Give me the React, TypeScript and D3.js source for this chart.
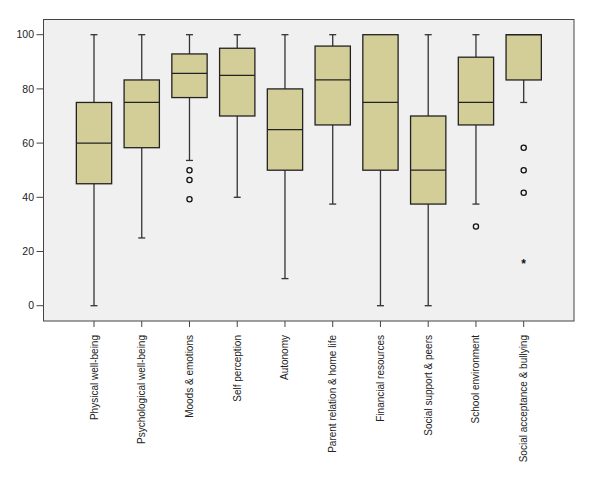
import React from "react";
import * as d3 from "d3";

const categories = [
  "Physical well-being",
  "Psychological well-being",
  "Moods & emotions",
  "Self perception",
  "Autonomy",
  "Parent relation & home life",
  "Financial resources",
  "Social support & peers",
  "School environment",
  "Social acceptance & bullying",
];
const whiskerLow = [0, 25, 53.6, 40, 10, 37.5, 0, 0, 37.5, 75];
const q1 = [45, 58.3, 76.8, 70, 50, 66.7, 50, 37.5, 66.7, 83.3];
const median = [60, 75, 85.7, 85, 65, 83.3, 75, 50, 75, 100];
const q3 = [75, 83.3, 92.9, 95, 80, 95.8, 100, 70, 91.7, 100];
const whiskerHigh = [100, 100, 100, 100, 100, 100, 100, 100, 100, 100];
const outliers: number[][] = [[], [], [50, 46.4, 39.3], [], [], [], [], [], [29.2], [58.3, 50, 41.7]];
const extremes: number[][] = [[], [], [], [], [], [], [], [], [], [16.7]];
const yTicks = [0, 20, 40, 60, 80, 100];

export default function App() {
  const W = 600, H = 480;
  const frame = { x0: 43.5, x1: 574, y0: 19.5, y1: 321 };
  const y = d3.scaleLinear().domain([0, 100]).range([305.7, 34.7]);
  const x = d3.scalePoint<string>().domain(categories).range([94, 523.7]);
  const boxW = 35.3;
  const capW = 7;
  const font = "Arial, 'Liberation Sans', sans-serif";
  const fill = "#D3CE98";
  const stroke = "#222";

  return (
    <svg width={W} height={H} style={{ display: "block", position: "absolute", left: 0, top: 0 }}>
      <rect x={0} y={0} width={W} height={H} fill="#fff" />
      <rect x={frame.x0} y={frame.y0} width={frame.x1 - frame.x0} height={frame.y1 - frame.y0} fill="#F0F0F0" stroke="#444" strokeWidth={1} />
      {yTicks.map((t) => (
        <g key={t}>
          <line x1={36.5} x2={frame.x0} y1={y(t)} y2={y(t)} stroke="#444" strokeWidth={1} />
          <text x={34} y={y(t)} dy="0.35em" textAnchor="end" fontFamily={font} fontSize={10.5} fill="#222">{t}</text>
        </g>
      ))}
      {categories.map((c, i) => {
        const cx = x(c)!;
        return (
          <g key={c}>
            <line x1={cx} x2={cx} y1={frame.y1} y2={frame.y1 + 6} stroke="#444" strokeWidth={1} />
            <text transform={`translate(${cx + 3.5},${frame.y1 + 14}) rotate(-90)`} textAnchor="end" fontFamily={font} fontSize={10} fill="#222">{c}</text>
            <line x1={cx} x2={cx} y1={y(whiskerLow[i])} y2={y(q1[i])} stroke="#333" strokeWidth={1.3} />
            <line x1={cx} x2={cx} y1={y(q3[i])} y2={y(whiskerHigh[i])} stroke="#333" strokeWidth={1.3} />
            {whiskerLow[i] < q1[i] && (
              <line x1={cx - capW / 2} x2={cx + capW / 2} y1={y(whiskerLow[i])} y2={y(whiskerLow[i])} stroke="#333" strokeWidth={1.3} />
            )}
            {whiskerHigh[i] > q3[i] && (
              <line x1={cx - capW / 2} x2={cx + capW / 2} y1={y(whiskerHigh[i])} y2={y(whiskerHigh[i])} stroke="#333" strokeWidth={1.3} />
            )}
            <rect x={cx - boxW / 2} y={y(q3[i])} width={boxW} height={y(q1[i]) - y(q3[i])} fill={fill} stroke={stroke} strokeWidth={1.3} />
            <line x1={cx - boxW / 2} x2={cx + boxW / 2} y1={y(median[i])} y2={y(median[i])} stroke={stroke} strokeWidth={1.3} />
            {outliers[i].map((o, k) => (
              <circle key={k} cx={cx} cy={y(o)} r={2.6} fill="none" stroke="#111" strokeWidth={1.3} />
            ))}
            {extremes[i].map((o, k) => (
              <text key={k} x={cx} y={y(o)} dy="0.62em" textAnchor="middle" fontFamily={font} fontSize={12} fontWeight="bold" fill="#111">*</text>
            ))}
          </g>
        );
      })}
    </svg>
  );
}
